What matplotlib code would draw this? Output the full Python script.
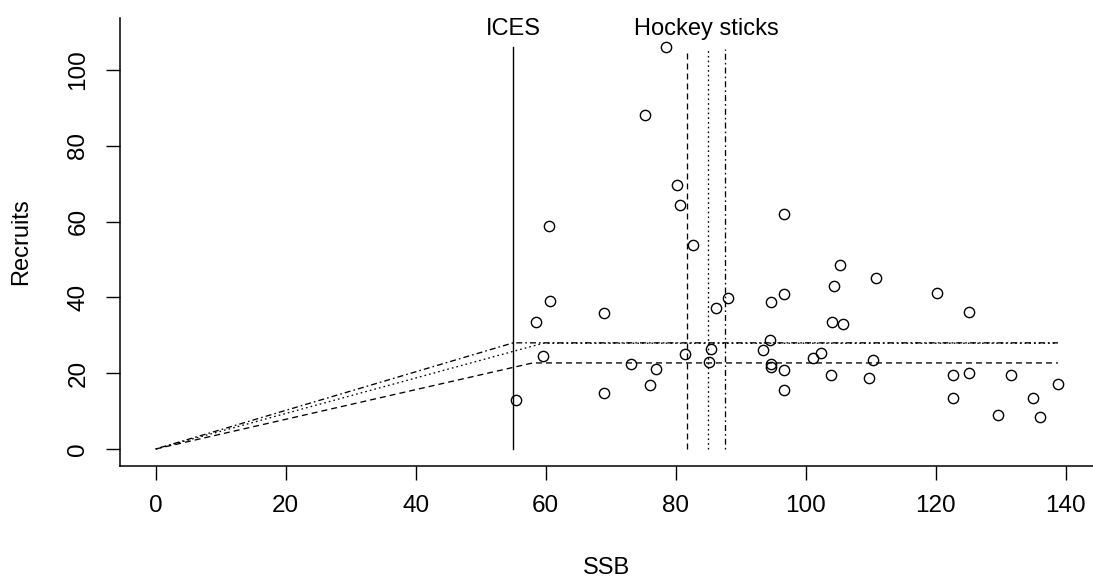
import matplotlib
matplotlib.use("Agg")
import matplotlib.pyplot as plt
import numpy as np

plt.rcParams['font.family'] = ['Liberation Sans', 'DejaVu Sans']
plt.rcParams['lines.scale_dashes'] = False

# ------------------------------------------------------------
# data
# ------------------------------------------------------------
ssb = np.array([78.5, 75.3, 80.2, 80.7, 60.5, 96.7, 82.7, 105.3, 110.8, 104.4,
                96.7, 120.2, 94.7, 60.6, 88.0, 86.2, 68.9, 125.2, 58.5, 104.1,
                105.8, 94.5, 93.5, 81.5, 85.4, 59.6, 73.2, 85.2, 94.7, 94.7,
                96.6, 101.2, 102.3, 110.4, 76.9, 103.9, 109.7, 122.6, 125.2, 131.6,
                138.8, 76.0, 96.6, 68.9, 122.6, 134.9, 55.4, 129.6, 136.0])
recruits = np.array([106.0, 88.1, 69.7, 64.4, 58.8, 62.0, 53.7, 48.5, 45.0, 43.0,
                     40.9, 41.1, 38.7, 39.0, 39.9, 37.1, 35.8, 36.2, 33.4, 33.5,
                     33.1, 28.8, 26.0, 25.1, 26.3, 24.4, 22.4, 22.9, 22.4, 21.6,
                     20.8, 24.0, 25.2, 23.6, 21.1, 19.6, 18.8, 19.5, 20.0, 19.5,
                     17.2, 16.8, 15.6, 14.9, 13.4, 13.4, 12.9, 9.0, 8.5])

ices_blim = 55.0

# three hockey-stick fits: breakpoint, knee of the drawn curve, plateau
hs_break = [81.7, 85.0, 87.6]
hs_knee = [58.0, 59.6, 55.0]
hs_plateau = [22.7, 27.9, 28.0]
hs_styles = [(0, (4.3, 2.9)), (0, (1.2, 2.2)), (0, (1.2, 2.2, 4.3, 2.2))]

# ------------------------------------------------------------
# plot
# ------------------------------------------------------------
W, H = 1093, 584
fig = plt.figure(figsize=(W / 100, H / 100), dpi=100)
ax = fig.add_axes([120 / W, 118 / H, 973 / W, 448 / H])

ax.plot(ssb, recruits, 'o', mfc='none', mec='black', ms=7.4, mew=1.0)

rmax = recruits.max()
ax.plot([ices_blim, ices_blim], [0, rmax], color='black', lw=1.0)

for b, k, p, ls in zip(hs_break, hs_knee, hs_plateau, hs_styles):
    ax.plot([0, k, ssb.max()], [0, p, p], color='black', lw=0.95, linestyle=ls)
    ax.plot([b, b], [0, rmax - 0.4], color='black', lw=0.95, linestyle=ls)

ax.text(ices_blim, 110.7, 'ICES', ha='center', va='center', fontsize=17)
ax.text(np.mean(hs_break), 110.9, 'Hockey sticks', ha='center', va='center', fontsize=17)

ax.set_xlim(-5.49, 144.2)
ax.set_ylim(-4.49, 113.7)
ax.set_xticks(np.arange(0, 141, 20))
ax.set_yticks(np.arange(0, 101, 20))

for s in ['top', 'right']:
    ax.spines[s].set_visible(False)
for s in ['left', 'bottom']:
    ax.spines[s].set_linewidth(1.1)

ax.tick_params(axis='both', direction='out', length=10, width=1.0, labelsize=17.5)
ax.tick_params(axis='x', pad=11)
ax.tick_params(axis='y', pad=12, labelrotation=90)
for lab in ax.get_yticklabels():
    lab.set_va('center')

ax.set_xlabel('SSB', fontsize=17, va='center')
ax.xaxis.set_label_coords(0.5, (466 - 568) / 448)
ax.set_ylabel('Recruits', fontsize=17, va='center')
ax.yaxis.set_label_coords((21 - 120) / 973, 0.5)

fig.savefig('out.png', dpi=100)
